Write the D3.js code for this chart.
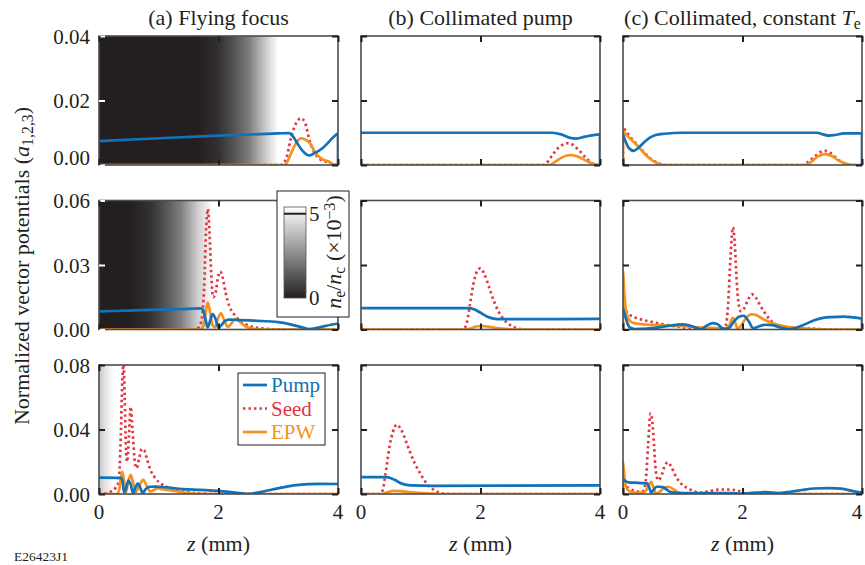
<!DOCTYPE html>
<html><head><meta charset="utf-8">
<script src="https://cdn.jsdelivr.net/npm/d3@7"></script>
<style>
body{margin:0;background:#fff}
svg{display:block}
text{font-family:"Liberation Serif","Times New Roman",serif;fill:#231f20}
</style>
</head><body>
<svg id="chart" width="865" height="565"></svg>
<script>
// ---------------- DATA ----------------
const seriesNames = ["Pump", "Seed", "EPW"];
const panelTitles = [
  [{t:"(a) Flying focus"}],
  [{t:"(b) Collimated pump"}],
  [{t:"(c) Collimated, constant "},{t:"T",i:true},{t:"e",sub:true}]
];
const rowMax = [0.04, 0.06, 0.08];
const rowMid = [0.02, 0.03, 0.04];
const yTickLabels = [["0.00","0.02","0.04"],["0.00","0.03","0.06"],["0.00","0.04","0.08"]];
const xTickValues = [0, 2, 4];
const xTickLabels = ["0", "2", "4"];
const colorbarTicks = [0, 5];
const colorbarLabels = ["0", "5"];

// background density n_e/n_c (x1e-3) along z for panel (a), rows 1-3
const bgZ1 = [0, 1.65, 2.0, 2.25, 2.52, 2.8, 3.0, 4];
const bgN1 = [0, 0, 0.4, 1.2, 2.3, 4.2, 5.4, 5.4];
const bgZ2 = [0, 0.5, 0.85, 1.1, 1.37, 1.65, 1.9, 4];
const bgN2 = [0, 0, 0.4, 1.2, 2.3, 4.2, 5.4, 5.4];
const bgZ3 = [0, 0.1, 0.25, 4];
const bgN3 = [4.0, 4.7, 5.4, 5.4];

// row 1
const pumpA1 = [[0,0.0074],[1,0.0083],[2,0.0091],[3,0.0098],[3.18,0.0099],[3.25,0.0088],[3.32,0.0067],[3.4,0.0045],[3.48,0.0032],[3.53,0.0030],[3.6,0.0036],[3.74,0.0052],[3.85,0.0072],[3.96,0.0093],[4,0.0097],[4,0]];
const seedA1 = [[0,0],[3.05,0],[3.1,0.0008],[3.15,0.003],[3.2,0.0075],[3.3,0.013],[3.38,0.0145],[3.45,0.013],[3.52,0.0078],[3.58,0.0048],[3.63,0.0031],[3.7,0.0018],[3.8,0.001],[3.9,0.0003],[4,0]];
const epwA1 = [[0,0],[3.1,0],[3.15,0.001],[3.2,0.003],[3.3,0.0068],[3.38,0.0083],[3.45,0.0079],[3.52,0.007],[3.6,0.0045],[3.66,0.003],[3.75,0.0017],[3.85,0.001],[3.92,0.0002],[4,0]];
const pumpB1 = [[0,0.0100],[3.2,0.0100],[3.35,0.0095],[3.5,0.0084],[3.6,0.0082],[3.75,0.0088],[4,0.0095],[4,0]];
const seedB1 = [[0,0],[3.05,0],[3.1,0.0005],[3.2,0.003],[3.3,0.0053],[3.4,0.0065],[3.47,0.0068],[3.55,0.0062],[3.65,0.0045],[3.75,0.0025],[3.85,0.0008],[3.95,0],[4,0]];
const epwB1 = [[0,0],[3.15,0],[3.25,0.001],[3.35,0.0022],[3.5,0.0031],[3.6,0.0028],[3.7,0.002],[3.8,0.001],[3.9,0.0003],[4,0]];
const pumpC1 = [[0,0.0095],[0.05,0.007],[0.1,0.0052],[0.18,0.0044],[0.25,0.0052],[0.35,0.007],[0.45,0.0085],[0.55,0.0093],[0.7,0.0097],[1,0.0100],[3.25,0.0100],[3.35,0.0095],[3.45,0.0091],[3.55,0.0093],[3.7,0.0098],[4,0.0098],[4,0]];
const seedC1 = [[0,0],[0,0.0115],[0.05,0.0105],[0.1,0.0092],[0.15,0.008],[0.2,0.007],[0.3,0.005],[0.4,0.003],[0.5,0.0015],[0.6,0.0005],[0.7,0],[3.0,0],[3.1,0.001],[3.2,0.0025],[3.3,0.004],[3.38,0.0044],[3.45,0.004],[3.55,0.0025],[3.65,0.001],[3.75,0.0002],[3.85,0],[4,0]];
const epwC1 = [[0,0],[0,0.0105],[0.05,0.0095],[0.1,0.0085],[0.2,0.0068],[0.3,0.0048],[0.4,0.0028],[0.5,0.0013],[0.6,0.0004],[0.7,0],[3.05,0],[3.15,0.001],[3.25,0.0025],[3.37,0.0034],[3.5,0.0028],[3.6,0.0015],[3.7,0.0006],[3.8,0.0001],[3.9,0],[4,0]];

// row 2
const pumpA2 = [[0,0.0084],[0.5,0.0088],[1.0,0.0092],[1.5,0.0096],[1.7,0.0098],[1.74,0.0092],[1.78,0.005],[1.82,0.001],[1.86,0.004],[1.9,0.0072],[1.95,0.005],[2.0,0.0008],[2.05,0.002],[2.1,0.0038],[2.18,0.0046],[2.3,0.0045],[2.6,0.0041],[3.0,0.0034],[3.2,0.0024],[3.4,0.001],[3.52,0.0002],[3.65,0.0008],[3.8,0.0017],[4.0,0.0028]];
const seedA2 = [[0,0],[1.62,0],[1.67,0.001],[1.72,0.005],[1.76,0.02],[1.79,0.045],[1.82,0.056],[1.85,0.045],[1.88,0.025],[1.91,0.015],[1.95,0.017],[1.99,0.024],[2.03,0.027],[2.07,0.024],[2.12,0.017],[2.18,0.011],[2.25,0.0075],[2.35,0.0042],[2.45,0.0025],[2.6,0.001],[2.8,0.0003],[3,0],[4,0]];
const epwA2 = [[0,0],[1.7,0],[1.75,0.002],[1.79,0.009],[1.82,0.0125],[1.86,0.008],[1.9,0.002],[1.94,0.001],[1.99,0.005],[2.04,0.0075],[2.1,0.004],[2.16,0.0012],[2.22,0.003],[2.29,0.005],[2.36,0.0035],[2.45,0.0015],[2.55,0.0004],[2.7,0],[4,0]];
const pumpB2 = [[0,0.0099],[1.8,0.0099],[1.9,0.0093],[2.0,0.0078],[2.1,0.0062],[2.2,0.0052],[2.35,0.0048],[4,0.0049]];
const seedB2 = [[0,0],[1.7,0],[1.76,0.002],[1.82,0.011],[1.88,0.021],[1.94,0.027],[2.0,0.0285],[2.06,0.026],[2.14,0.02],[2.22,0.0135],[2.3,0.0085],[2.38,0.005],[2.46,0.0028],[2.55,0.0012],[2.65,0.0003],[2.75,0],[4,0]];
const epwB2 = [[0,0],[1.75,0],[1.85,0.0006],[1.95,0.0015],[2.05,0.0016],[2.2,0.001],[2.35,0.0004],[2.5,0.0001],[2.6,0],[4,0]];
const pumpC2 = [[0,0.0098],[0.04,0.006],[0.08,0.0025],[0.12,0.0008],[0.2,0.0002],[0.4,0.0004],[0.6,0.001],[0.8,0.0018],[0.98,0.0024],[1.1,0.002],[1.2,0.001],[1.3,0.0001],[1.4,0.0018],[1.5,0.003],[1.58,0.0025],[1.67,0.0005],[1.72,0.0003],[1.78,0.0008],[1.85,0.0035],[1.95,0.006],[2.02,0.0064],[2.1,0.004],[2.18,0.0006],[2.25,0.0012],[2.38,0.0022],[2.5,0.002],[2.65,0.0008],[2.78,0.0002],[2.9,0.0008],[3.05,0.0025],[3.2,0.0043],[3.35,0.0054],[3.5,0.0058],[3.7,0.006],[3.85,0.0056],[4,0.005],[4,0]];
const seedC2 = [[0,0],[0,0.0105],[0.05,0.0085],[0.12,0.0067],[0.2,0.0056],[0.3,0.0047],[0.5,0.0034],[0.75,0.002],[1.0,0.001],[1.2,0.0005],[1.4,0.0002],[1.65,0.0002],[1.72,0.002],[1.76,0.012],[1.8,0.034],[1.84,0.0475],[1.87,0.04],[1.9,0.024],[1.93,0.013],[1.97,0.0085],[2.02,0.0095],[2.08,0.013],[2.16,0.0163],[2.22,0.015],[2.3,0.011],[2.38,0.0075],[2.46,0.0045],[2.55,0.0025],[2.7,0.0013],[2.9,0.0008],[3.1,0.0005],[3.3,0.0002],[3.5,0],[4,0]];
const epwC2 = [[0,0],[0,0.027],[0.02,0.018],[0.05,0.009],[0.1,0.0045],[0.18,0.003],[0.3,0.0025],[0.6,0.002],[1.0,0.0015],[1.4,0.0008],[1.7,0.0005],[1.78,0.002],[1.84,0.0054],[1.88,0.003],[1.92,0.0003],[1.97,0.0015],[2.05,0.005],[2.15,0.0071],[2.22,0.0068],[2.35,0.0048],[2.5,0.003],[2.7,0.0015],[2.9,0.0008],[3.2,0.0002],[3.4,0],[4,0]];

// row 3
const pumpA3 = [[0,0.0101],[0.36,0.0100],[0.39,0.0085],[0.42,0.001],[0.45,0.003],[0.49,0.0083],[0.53,0.006],[0.57,0.0005],[0.61,0.004],[0.65,0.0066],[0.69,0.004],[0.73,0.0005],[0.78,0.003],[0.85,0.0045],[0.95,0.0046],[1.1,0.0042],[1.4,0.003],[1.7,0.0025],[2.0,0.0019],[2.2,0.0012],[2.4,0.0004],[2.52,0.0001],[2.7,0.0012],[2.9,0.0028],[3.1,0.0043],[3.3,0.0055],[3.5,0.0061],[3.7,0.0063],[4,0.0062]];
const seedA3 = [[0,0],[0.1,0.0003],[0.2,0.0015],[0.28,0.004],[0.33,0.008],[0.36,0.03],[0.39,0.07],[0.41,0.082],[0.43,0.06],[0.45,0.03],[0.47,0.02],[0.5,0.035],[0.53,0.054],[0.56,0.04],[0.6,0.02],[0.63,0.016],[0.67,0.022],[0.72,0.028],[0.76,0.027],[0.8,0.022],[0.86,0.015],[0.93,0.0105],[1.0,0.0075],[1.1,0.005],[1.2,0.0035],[1.35,0.002],[1.5,0.001],[1.7,0.0004],[2.0,0],[4,0]];
const epwA3 = [[0,0],[0.3,0],[0.34,0.003],[0.37,0.011],[0.39,0.0138],[0.42,0.008],[0.45,0.001],[0.48,0.006],[0.53,0.0118],[0.57,0.007],[0.61,0.001],[0.66,0.004],[0.74,0.0087],[0.8,0.005],[0.86,0.0015],[0.92,0.0025],[0.98,0.0035],[1.05,0.003],[1.2,0.0022],[1.4,0.001],[1.6,0.0002],[1.8,0],[4,0]];
const pumpB3 = [[0,0.0105],[0.42,0.0105],[0.5,0.0098],[0.58,0.0085],[0.66,0.0068],[0.74,0.0058],[0.85,0.0053],[1.2,0.0051],[4,0.0053]];
const seedB3 = [[0,0],[0.3,0],[0.36,0.002],[0.4,0.01],[0.44,0.02],[0.48,0.03],[0.53,0.038],[0.6,0.043],[0.67,0.04],[0.75,0.033],[0.82,0.026],[0.9,0.019],[0.98,0.0135],[1.06,0.0085],[1.14,0.0048],[1.22,0.0025],[1.3,0.001],[1.4,0.0002],[1.5,0],[4,0]];
const epwB3 = [[0,0],[0.35,0],[0.45,0.0012],[0.55,0.002],[0.65,0.0018],[0.8,0.0012],[1.0,0.0006],[1.2,0.0002],[1.35,0],[4,0]];
const pumpC3 = [[0,0.0093],[0.04,0.008],[0.1,0.0072],[0.2,0.007],[0.3,0.0068],[0.4,0.0066],[0.44,0.004],[0.47,0.0008],[0.51,0.0025],[0.56,0.0045],[0.62,0.0045],[0.68,0.0041],[0.74,0.0025],[0.8,0.0012],[0.9,0.0007],[1.2,0.0005],[1.5,0.0006],[1.8,0.0005],[2.0,0.0003],[2.2,0.0008],[2.4,0.0012],[2.6,0.0006],[2.8,0.0014],[3.0,0.0025],[3.2,0.0034],[3.45,0.0037],[3.65,0.0033],[3.85,0.0018],[4,0.0008]];
const seedC3 = [[0,0.007],[0.05,0.005],[0.1,0.0035],[0.18,0.0022],[0.26,0.0015],[0.34,0.002],[0.38,0.008],[0.42,0.03],[0.46,0.05],[0.49,0.045],[0.52,0.03],[0.55,0.014],[0.59,0.0085],[0.64,0.011],[0.7,0.0175],[0.75,0.0197],[0.8,0.0175],[0.87,0.012],[0.94,0.0078],[1.0,0.0055],[1.1,0.0032],[1.2,0.0016],[1.3,0.0008],[1.4,0.0015],[1.55,0.0025],[1.7,0.0028],[1.85,0.0025],[1.95,0.0018],[2.05,0.0003],[2.2,0],[4,0]];
const epwC3 = [[0,0],[0,0.02],[0.02,0.012],[0.04,0.006],[0.07,0.003],[0.12,0.0015],[0.2,0.0008],[0.3,0.0008],[0.38,0.002],[0.43,0.0055],[0.47,0.0075],[0.51,0.004],[0.55,0.0005],[0.6,0.001],[0.68,0.0035],[0.76,0.0045],[0.84,0.003],[0.92,0.001],[1.0,0.0002],[1.1,0],[4,0]];

const panelData = [
  [[pumpA1, seedA1, epwA1], [pumpB1, seedB1, epwB1], [pumpC1, seedC1, epwC1]],
  [[pumpA2, seedA2, epwA2], [pumpB2, seedB2, epwB2], [pumpC2, seedC2, epwC2]],
  [[pumpA3, seedA3, epwA3], [pumpB3, seedB3, epwB3], [pumpC3, seedC3, epwC3]]
];
const bgZ = [bgZ1, bgZ2, bgZ3];
const bgN = [bgN1, bgN2, bgN3];

// ---------------- LAYOUT / STYLE ----------------
const colX = [99, 361, 623], panelW = 239;
const rowY = [36, 200.5, 365], panelH = 129;
const colors = {Pump: "#1172b9", Seed: "#e2353f", EPW: "#f5921e"};
const FS = 22;   // titles, axis labels
const TS = 21;   // tick labels, legend

const svg = d3.select("#chart");
const defs = svg.append("defs");
const gray = d3.scaleLinear().domain([0, 5.4]).range(["#231f20", "#ffffff"]);

function rich(sel, parts, size) {
  parts.forEach(p => {
    const ts = sel.append("tspan").text(p.t);
    if (p.i) ts.attr("font-style", "italic");
    if (p.sub) ts.attr("baseline-shift", "-22%").attr("font-size", size * 0.72);
    if (p.sup) ts.attr("baseline-shift", "38%").attr("font-size", size * 0.72);
  });
}

const line = (x, y) => d3.line().x(d => x(d[0])).y(d => y(d[1])).curve(d3.curveMonotoneX);

for (let r = 0; r < 3; r++) {
  for (let c = 0; c < 3; c++) {
    const x = d3.scaleLinear().domain([0, 4]).range([colX[c], colX[c] + panelW]);
    const y = d3.scaleLinear().domain([0, rowMax[r]]).range([rowY[r] + panelH, rowY[r]]);
    const g = svg.append("g");
    const clipId = `clip${r}${c}`;
    defs.append("clipPath").attr("id", clipId).append("rect")
      .attr("x", colX[c]).attr("y", rowY[r]).attr("width", panelW).attr("height", panelH);

    if (c === 0) {
      const gid = `bg${r}`;
      const grad = defs.append("linearGradient").attr("id", gid)
        .attr("x1", "0%").attr("x2", "100%").attr("y1", "0%").attr("y2", "0%");
      bgZ[r].forEach((z, i) => grad.append("stop")
        .attr("offset", (z / 4 * 100) + "%").attr("stop-color", gray(bgN[r][i])));
      g.append("rect").attr("x", colX[c]).attr("y", rowY[r])
        .attr("width", panelW).attr("height", panelH).attr("fill", `url(#${gid})`);
    }

    const lg = g.append("g").attr("clip-path", `url(#${clipId})`);
    const order = [1, 2, 0];
    order.forEach(si => {
      const name = seriesNames[si];
      const p = lg.append("path").datum(panelData[r][c][si])
        .attr("d", line(x, y)).attr("fill", "none")
        .attr("stroke", colors[name]).attr("stroke-width", 2.7)
        .attr("stroke-linejoin", "round");
      if (name === "Seed") p.attr("stroke-dasharray", "2.4,3.1");
    });

    // frame
    g.append("rect").attr("x", colX[c]).attr("y", rowY[r])
      .attr("width", panelW).attr("height", panelH)
      .attr("fill", "none").attr("stroke", "#4d4d4d").attr("stroke-width", 1.6);

    // ticks (inside)
    const yt = [0, rowMid[r], rowMax[r]];
    const axL = d3.axisLeft(y).tickValues(yt).tickSizeInner(-6).tickSizeOuter(0).tickFormat("");
    const axR = d3.axisRight(y).tickValues(yt).tickSizeInner(-6).tickSizeOuter(0).tickFormat("");
    const axB = d3.axisBottom(x).tickValues(xTickValues).tickSizeInner(-6).tickSizeOuter(0).tickFormat("");
    const axT = d3.axisTop(x).tickValues(xTickValues).tickSizeInner(-6).tickSizeOuter(0).tickFormat("");
    const gl = g.append("g").attr("transform", `translate(${colX[c]},0)`).call(axL);
    g.append("g").attr("transform", `translate(${colX[c] + panelW},0)`).call(axR);
    g.append("g").attr("transform", `translate(0,${rowY[r] + panelH})`).call(axB);
    g.append("g").attr("transform", `translate(0,${rowY[r]})`).call(axT);
    g.selectAll(".domain").remove();
    g.selectAll(".tick line").attr("stroke", "#231f20").attr("stroke-width", 2);
    if (c === 0 && r < 2) gl.selectAll(".tick line").attr("stroke", "#ffffff");

    // y tick labels on column a
    if (c === 0) {
      yt.forEach((v, i) => {
        const off = (r === 0 && i === 0) ? 0 : 7.5;
        svg.append("text").attr("x", colX[0] - 9).attr("y", y(v) + off)
          .attr("text-anchor", "end").attr("font-size", TS).text(yTickLabels[r][i]);
      });
    }
    // x tick labels bottom row
    if (r === 2) {
      xTickValues.forEach((v, i) => {
        svg.append("text").attr("x", Math.min(x(v), 857)).attr("y", rowY[2] + panelH + 25)
          .attr("text-anchor", "middle").attr("font-size", TS).text(xTickLabels[i]);
      });
      const xl = svg.append("text").attr("x", colX[c] + panelW / 2).attr("y", 551)
        .attr("text-anchor", "middle").attr("font-size", FS);
      rich(xl, [{t:"z", i:true}, {t:" (mm)"}], FS);
    }
    // titles
    if (r === 0) {
      const t = svg.append("text").attr("x", colX[c] + panelW / 2).attr("y", 25)
        .attr("text-anchor", "middle").attr("font-size", FS);
      rich(t, panelTitles[c], FS);
    }
  }
}

// y axis label
const yl = svg.append("text").attr("transform", "translate(29,266) rotate(-90)")
  .attr("text-anchor", "middle").attr("font-size", FS);
rich(yl, [{t:"Normalized vector potentials ("},{t:"a",i:true},{t:"1,2,3",sub:true},{t:")"}], FS);

// figure id
svg.append("text").attr("x", 14).attr("y", 561).attr("font-size", 13.5).text("E26423J1");

// colorbar legend
svg.append("rect").attr("x", 277).attr("y", 191).attr("width", 72).attr("height", 126)
  .attr("fill", "#fff").attr("stroke", "#231f20").attr("stroke-width", 1);
const cb = d3.scaleLinear().domain([0, 5.4]).range([298, 207]);
const cbg = defs.append("linearGradient").attr("id", "cbgrad")
  .attr("x1", "0%").attr("x2", "0%").attr("y1", "100%").attr("y2", "0%");
[0, 5.4].forEach(v => cbg.append("stop").attr("offset", (v / 5.4 * 100) + "%").attr("stop-color", gray(v)));
svg.append("rect").attr("x", 284).attr("y", cb(5.4)).attr("width", 22).attr("height", cb(0) - cb(5.4))
  .attr("fill", "url(#cbgrad)").attr("stroke", "#555").attr("stroke-width", 0.8);
svg.append("line").attr("x1", 284).attr("x2", 306).attr("y1", cb(5)).attr("y2", cb(5))
  .attr("stroke", "#231f20").attr("stroke-width", 2);
colorbarTicks.forEach((v, i) => {
  svg.append("text").attr("x", 309).attr("y", cb(v) + 7).attr("font-size", TS).text(colorbarLabels[i]);
});
const cbl = svg.append("text").attr("transform", "translate(341,252) rotate(-90)")
  .attr("text-anchor", "middle").attr("font-size", FS);
rich(cbl, [{t:"n",i:true},{t:"e",sub:true},{t:"/"},{t:"n",i:true},{t:"c",sub:true},{t:" (×10"},{t:"−3",sup:true},{t:")"}], FS);

// series legend
svg.append("rect").attr("x", 238).attr("y", 373).attr("width", 87).attr("height", 72)
  .attr("fill", "#fff").attr("stroke", "#231f20").attr("stroke-width", 1);
seriesNames.forEach((name, i) => {
  const yy = 385 + i * 23.5;
  const l = svg.append("line").attr("x1", 243).attr("x2", 267).attr("y1", yy).attr("y2", yy)
    .attr("stroke", colors[name]).attr("stroke-width", 2.7);
  if (name === "Seed") l.attr("stroke-dasharray", "2.4,3.1");
  svg.append("text").attr("x", 271).attr("y", yy + 7).attr("font-size", TS)
    .style("fill", colors[name]).text(name);
});
</script>
</body></html>
